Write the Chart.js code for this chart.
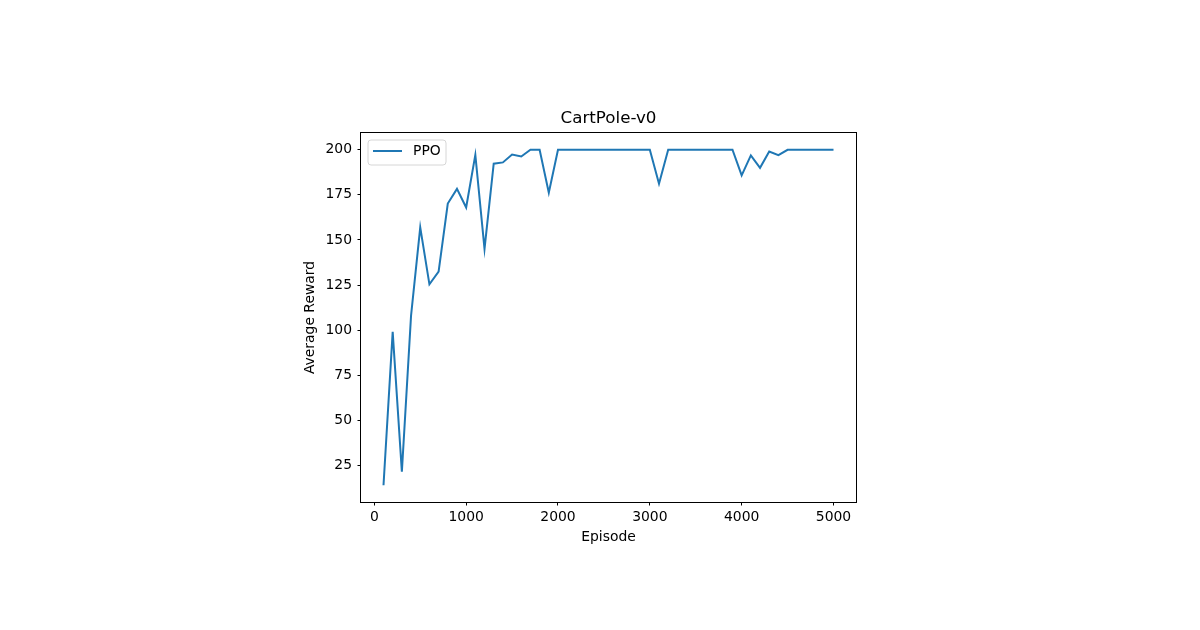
<!DOCTYPE html>
<html><head><meta charset="utf-8">
<script src="https://cdn.jsdelivr.net/npm/chart.js@4"></script>
<style>html,body{margin:0;padding:0;background:#fff}canvas{display:block}</style>
</head><body>
<canvas id="c" width="1200" height="630"></canvas>
<script>
const chartTitle = "CartPole-v0";
const xLabel = "Episode";
const yLabel = "Average Reward";
const seriesLabel = "PPO";
const episodes = [100,200,300,400,500,600,700,800,900,1000,1100,1200,1300,1400,1500,1600,1700,1800,1900,2000,
  2100,2200,2300,2400,2500,2600,2700,2800,2900,3000,3100,3200,3300,3400,3500,3600,3700,3800,3900,4000,
  4100,4200,4300,4400,4500,4600,4700,4800,4900,5000];
const rewards = [14,99,21.5,108,157,125.4,132.4,170.2,178.3,168,197.2,145,192.3,193,197.4,196.3,200,200,176.2,200,
  200,200,200,200,200,200,200,200,200,200,181.2,200,200,200,200,200,200,200,200,185.8,
  196.9,190,199,197,200,200,200,200,200,200];
const xTickValues = [0,1000,2000,3000,4000,5000];
const yTickValues = [25,50,75,100,125,150,175,200];

const FONT = "DejaVu Sans";
const AREA = {left:361, top:133, right:856, bottom:502};

const overlay = {
  id:'overlay',
  afterDraw(chart){
    const ctx = chart.ctx, a = chart.chartArea;
    ctx.save();
    ctx.strokeStyle = '#000'; ctx.lineWidth = 1;
    ctx.strokeRect(Math.round(a.left)-0.5, Math.round(a.top)-0.5, Math.round(a.right-a.left)+1, Math.round(a.bottom-a.top)+1);
    ctx.fillStyle = '#000';
    ctx.textAlign = 'center'; ctx.textBaseline = 'middle';
    ctx.font = `16.7px "${FONT}"`;
    ctx.fillText(chartTitle, (a.left+a.right)/2, 119);
    ctx.font = `13.9px "${FONT}"`;
    ctx.fillText(xLabel, (a.left+a.right)/2, 537);
    ctx.save();
    ctx.translate(310, (a.top+a.bottom)/2);
    ctx.rotate(-Math.PI/2);
    ctx.fillText(yLabel, 0, 0);
    ctx.restore();
    // legend
    const lx = a.left+7, ly = a.top+7, lw = 78, lh = 25, r = 3;
    ctx.beginPath();
    ctx.moveTo(lx+r, ly); ctx.lineTo(lx+lw-r, ly); ctx.arcTo(lx+lw, ly, lx+lw, ly+r, r);
    ctx.lineTo(lx+lw, ly+lh-r); ctx.arcTo(lx+lw, ly+lh, lx+lw-r, ly+lh, r);
    ctx.lineTo(lx+r, ly+lh); ctx.arcTo(lx, ly+lh, lx, ly+lh-r, r);
    ctx.lineTo(lx, ly+r); ctx.arcTo(lx, ly, lx+r, ly, r);
    ctx.closePath();
    ctx.fillStyle = 'rgba(255,255,255,0.8)'; ctx.fill();
    ctx.strokeStyle = '#d6d6d6'; ctx.lineWidth = 1; ctx.stroke();
    const ds = chart.data.datasets[0];
    ctx.strokeStyle = ds.borderColor; ctx.lineWidth = 2;
    ctx.beginPath(); ctx.moveTo(lx+5, ly+11); ctx.lineTo(lx+34, ly+11); ctx.stroke();
    ctx.fillStyle = '#000'; ctx.textAlign = 'left';
    ctx.font = `13.9px "${FONT}"`;
    ctx.fillText(ds.label, lx+45, ly+11.5);
    ctx.restore();
  }
};

new Chart(document.getElementById('c'), {
  type:'line',
  data:{ datasets:[{
    label: seriesLabel,
    data: episodes.map((e,i)=>({x:e, y:rewards[i]})),
    borderColor:'#1f77b4', borderWidth:2, pointRadius:0, tension:0, fill:false
  }]},
  options:{
    responsive:false, animation:false, devicePixelRatio:1,
    layout:{padding:{left:0, top:AREA.top, right:1200-AREA.right, bottom:0}},
    plugins:{legend:{display:false}, title:{display:false}, tooltip:{enabled:false}},
    scales:{
      x:{ type:'linear', min:-145, max:5245,
        afterFit(s){ s.height = 630-AREA.bottom; },
        afterBuildTicks(s){ s.ticks = xTickValues.map(v=>({value:v})); },
        grid:{display:true, drawOnChartArea:false, drawTicks:true, tickLength:3.5, tickColor:'#000', color:'#000'},
        border:{display:false},
        ticks:{color:'#000', padding:3.5, maxRotation:0, autoSkip:false, font:{family:FONT, size:13.9}, callback:v=>String(v)}
      },
      y:{ type:'linear', min:4.7, max:209.3,
        afterFit(s){ s.width = AREA.left; },
        afterBuildTicks(s){ s.ticks = yTickValues.map(v=>({value:v})); },
        grid:{display:true, drawOnChartArea:false, drawTicks:true, tickLength:3.5, tickColor:'#000', color:'#000'},
        border:{display:false},
        ticks:{color:'#000', padding:5.5, autoSkip:false, font:{family:FONT, size:13.9}, callback:v=>String(v)}
      }
    }
  },
  plugins:[overlay]
});
</script>
</body></html>
